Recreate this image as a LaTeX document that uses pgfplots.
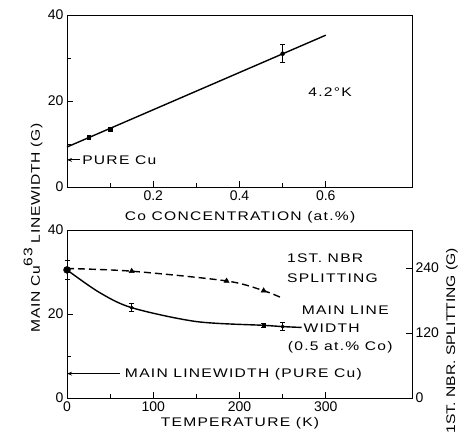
\documentclass[border=0pt]{standalone}
\usepackage{pgfplots}
\pgfplotsset{compat=1.18}
\usepackage{fontspec}
\setmainfont{Liberation Sans}
\newfontfamily\lbl{Liberation Sans}[FakeStretch=1.25,LetterSpace=10]
\newfontfamily\lblmid{Liberation Sans}[FakeStretch=1.25,LetterSpace=5]
\newfontfamily\lblnarrow{Liberation Sans}[FakeStretch=1.25]
\usetikzlibrary{arrows.meta}
\newcommand\lf{\lbl\fontsize{12.5}{14}\selectfont}

\pgfplotsset{
  fig/.style={
    scale only axis, width=345pt, clip=false,
    axis line style={line width=0.9pt},
    tick align=inside, major tick length=6pt, minor tick length=4pt,
    every tick/.style={black, line width=0.8pt},
    tick label style={font=\fontsize{14}{16}\selectfont},
    /pgf/number format/assume math mode=true,
    tick pos=left,
  },
  curve/.style={black, line width=1.4pt},
  ebar/.style={error bars/.cd, y dir=both, y explicit, error mark=|,
    error bar style={line width=0.9pt}, error mark options={mark size=2.5pt, line width=0.9pt}},
}

\begin{document}
\begin{tikzpicture}
\useasboundingbox (0,0) rectangle (466pt,437pt);

% upper panel: linewidth vs Co concentration at 4.2 K
\begin{axis}[fig, at={(67pt,250pt)}, anchor=south west, height=172pt,
  xmin=0, xmax=0.8, ymin=0, ymax=40,
  xtick={0.2,0.4,0.6}, minor xtick={0.1,0.3,0.5},
  ytick={0,20,40}, minor ytick={10,30},
  xticklabel style={/pgf/number format/fixed, /pgf/number format/precision=1},
]
\addplot[curve] coordinates {(0,9.3) (0.6,35.3)};
\addplot[only marks, mark=square*, mark size=1.8pt] coordinates {(0.05,11.6) (0.1,13.5)};
\addplot[only marks, mark=*, mark size=2pt, ebar] coordinates {(0.5,31.0) +- (0,2.1)};
\addplot[black, line width=1pt, -{Stealth[length=5pt]}] coordinates {(0.03,6.3) (0,6.3)};
\node[anchor=west, inner sep=0, font=\lf] at (axis cs:0.035,6.3) {PURE Cu};
\node[font=\lf] at (axis cs:0.61,22.1) {4.2°K};
\end{axis}

% lower panel: main linewidth vs temperature
\begin{axis}[fig, at={(67pt,39pt)}, anchor=south west, height=168pt,
  xmin=0, xmax=400, ymin=0, ymax=40,
  xtick={0,100,200,300}, minor xtick={50,150,250},
  ytick={0,20,40}, minor ytick={10,30},
]
\addplot[curve, smooth] coordinates {(0,30.5) (37,25.2) (75,21.5) (150,18.2) (228,17.3) (250,17.0) (272,16.8)};
\addplot[only marks, mark=*, mark size=3.5pt, ebar] coordinates {(0,30.5) +- (0,2.2)};
\addplot[only marks, mark=*, mark size=1.8pt, ebar] coordinates {(75,21.5) +- (0,1.0) (250,17.0) +- (0,1.0)};
\addplot[only marks, mark=square*, mark size=1.8pt, ebar] coordinates {(228,17.3) +- (0,0.5)};
\addplot[black, line width=1pt, -{Stealth[length=5pt]}] coordinates {(61,5.8) (0,5.8)};
\node[anchor=west, inner sep=0, font=\lf] at (axis cs:67,5.6) {MAIN LINEWIDTH (PURE Cu)};
\node[anchor=west, inner sep=0, font=\lf] at (axis cs:255,33.3) {1ST. NBR};
\node[anchor=west, inner sep=0, font=\lf] at (axis cs:255,28.6) {SPLITTING};
\node[anchor=west, inner sep=0, font=\lf] at (axis cs:272,20.9) {MAIN LINE};
\node[anchor=west, inner sep=0, font=\lf] at (axis cs:274,16.6) {WIDTH};
\node[anchor=west, inner sep=0, font=\lf] at (axis cs:256,12.1) {(0.5 at.\% Co)};
\end{axis}

% right scale: first neighbour splitting
\begin{axis}[fig, at={(67pt,39pt)}, anchor=south west, height=168pt,
  xmin=0, xmax=400, ymin=0, ymax=310,
  hide x axis, axis y line*=right, ytick pos=right,
  ytick={0,120,240},
]
\addplot[curve, dash pattern=on 7pt off 4pt, smooth] coordinates {(0,239) (75,234) (185,216) (228,198) (250,184)};
\addplot[only marks, mark=triangle*, mark size=3pt] coordinates {(75,234) (185,216) (228,198)};
\end{axis}

\node[font=\lf] at (240pt,220pt) {Co CONCENTRATION (at.\%)};
\node[font=\lf] at (240pt,14pt) {TEMPERATURE (K)};
\node[font=\lblmid\fontsize{12.5}{14}\selectfont, rotate=90] at (33pt,209pt) {MAIN Cu\raisebox{0.6em}{63} LINEWIDTH (G)};
\node[font=\lblnarrow\fontsize{12.5}{14}\selectfont, rotate=90, anchor=east, inner sep=0] at (452pt,189pt) {1ST. NBR. SPLITTING (G)};
\end{tikzpicture}
\end{document}
